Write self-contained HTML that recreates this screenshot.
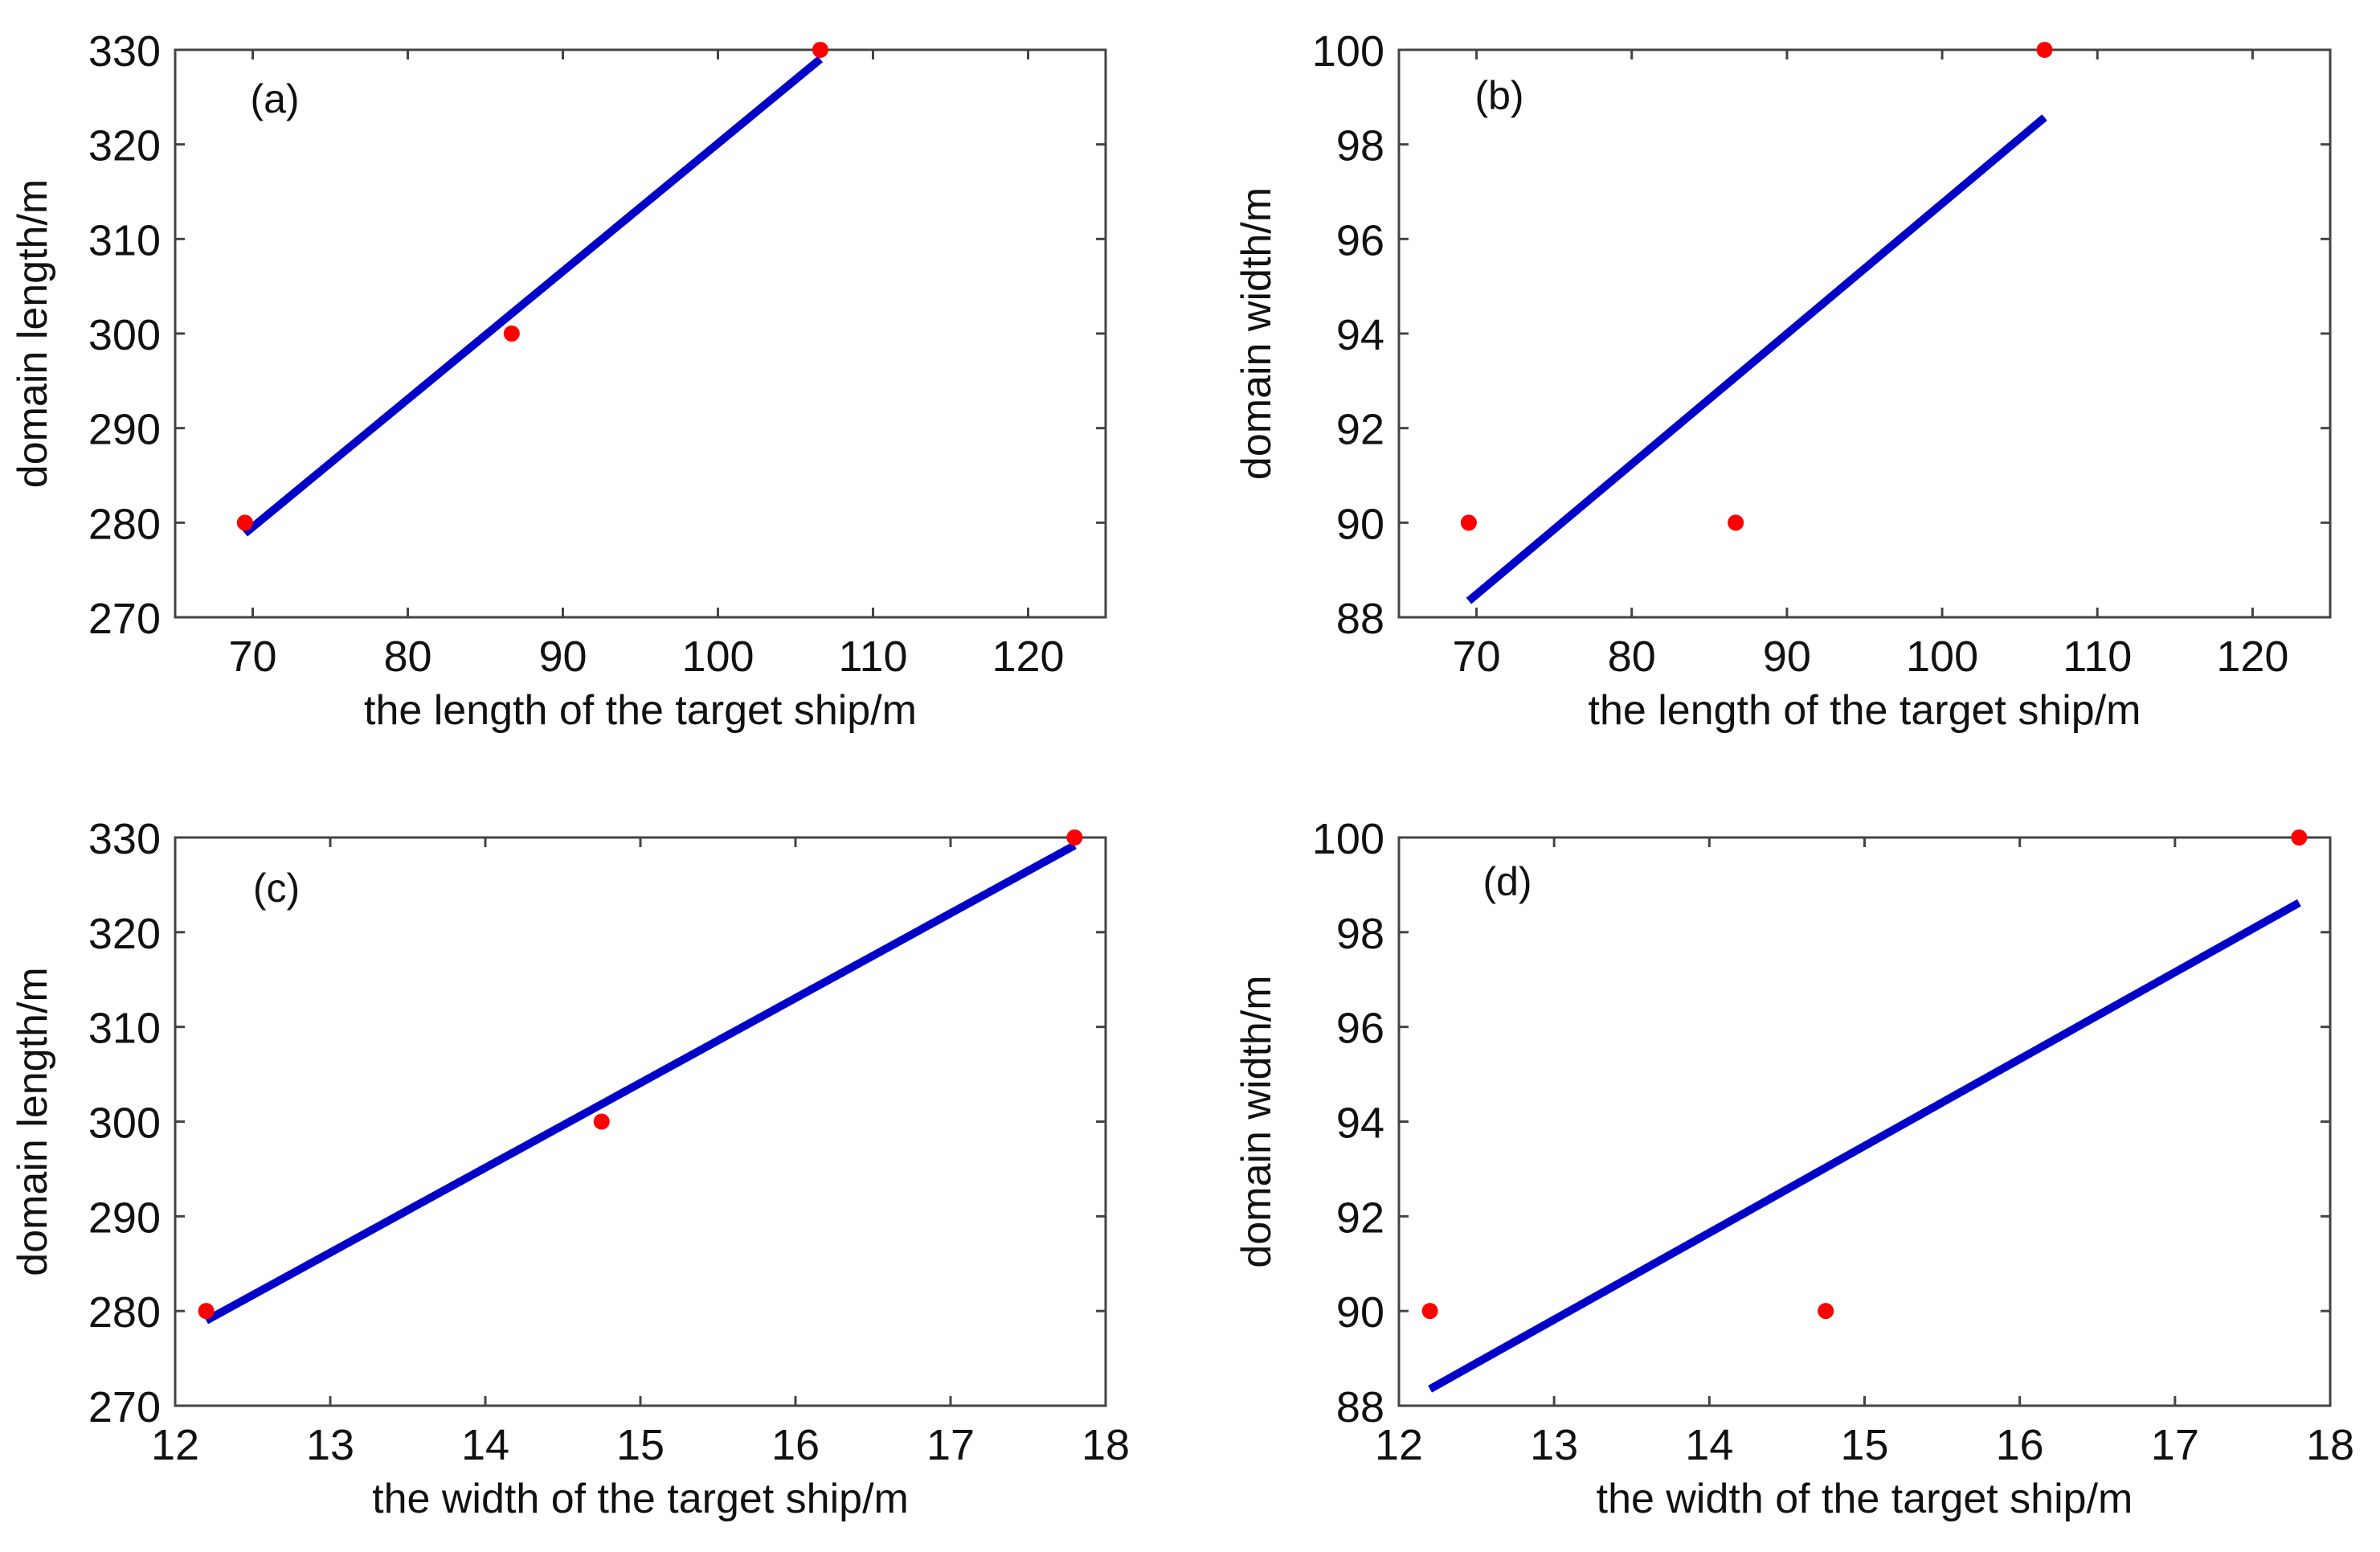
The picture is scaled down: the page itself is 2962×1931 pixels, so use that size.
<!DOCTYPE html>
<html><head><meta charset="utf-8"><style>
html,body{margin:0;padding:0;background:#fff;}
svg{display:block;font-family:"Liberation Sans",Arial,sans-serif;}
</style></head><body>
<svg id="fig" width="2962" height="1931" viewBox="0 0 2962 1931" xmlns="http://www.w3.org/2000/svg"></svg>
<script>
const shipLength = [69.5, 86.7, 106.6];
const shipWidth = [12.2, 14.75, 17.8];
const domainLength = [280, 300, 330];
const domainWidth = [90, 90, 100];
const ticksLen = [70, 80, 90, 100, 110, 120];
const ticksWid = [12, 13, 14, 15, 16, 17, 18];
const ticksDL = [270, 280, 290, 300, 310, 320, 330];
const ticksDW = [88, 90, 92, 94, 96, 98, 100];

const NS = "http://www.w3.org/2000/svg";
const svg = document.getElementById('fig');
function mk(tag, attrs, parent) {
  const e = document.createElementNS(NS, tag);
  for (const k in attrs) e.setAttribute(k, attrs[k]);
  (parent || svg).appendChild(e);
  return e;
}
function fit(xs, ys) {
  const n = xs.length;
  const mx = xs.reduce((a, b) => a + b, 0) / n, my = ys.reduce((a, b) => a + b, 0) / n;
  let sxy = 0, sxx = 0;
  for (let i = 0; i < n; i++) { sxy += (xs[i] - mx) * (ys[i] - my); sxx += (xs[i] - mx) ** 2; }
  const b = sxy / sxx; return v => my + b * (v - mx);
}
const panels = [
  {id:'a', L:218, T:62, R:1376, B:768, xd:[65,125], yd:[270,330], xs:shipLength, ys:domainLength, xt:ticksLen, yt:ticksDL, xl:'the length of the target ship/m', yl:'domain length/m', lx:342, ly:140},
  {id:'b', L:1741, T:62, R:2900, B:768, xd:[65,125], yd:[88,100], xs:shipLength, ys:domainWidth, xt:ticksLen, yt:ticksDW, xl:'the length of the target ship/m', yl:'domain width/m', lx:1866, ly:136},
  {id:'c', L:218, T:1042, R:1376, B:1749, xd:[12,18], yd:[270,330], xs:shipWidth, ys:domainLength, xt:ticksWid, yt:ticksDL, xl:'the width of the target ship/m', yl:'domain length/m', lx:344, ly:1122},
  {id:'d', L:1741, T:1042, R:2900, B:1749, xd:[12,18], yd:[88,100], xs:shipWidth, ys:domainWidth, xt:ticksWid, yt:ticksDW, xl:'the width of the target ship/m', yl:'domain width/m', lx:1876, ly:1114}
];
panels.forEach(p => {
  const g = mk('g', {});
  
  
  const sx = v => p.L + (v - p.xd[0]) / (p.xd[1] - p.xd[0]) * (p.R - p.L);
  const sy = v => p.B - (v - p.yd[0]) / (p.yd[1] - p.yd[0]) * (p.B - p.T);
  const box = mk('rect', {x:p.L, y:p.T, width:p.R-p.L, height:p.B-p.T, fill:'#fff', stroke:'#444', 'stroke-width':3}, g);
  
  
  p.xt.forEach(t => {
    const x = sx(t);
    mk('line', {x1:x, y1:p.B, x2:x, y2:p.B-12, stroke:'#444', 'stroke-width':3}, g);
    mk('line', {x1:x, y1:p.T, x2:x, y2:p.T+12, stroke:'#444', 'stroke-width':3}, g);
    const tl = mk('text', {x:x, y:p.B+67, 'font-size':54, 'text-anchor':'middle', fill:'#111'}, g);
    tl.textContent = t;
    
    
  });
  p.yt.forEach(t => {
    const y = sy(t);
    mk('line', {x1:p.L, y1:y, x2:p.L+12, y2:y, stroke:'#444', 'stroke-width':3}, g);
    mk('line', {x1:p.R, y1:y, x2:p.R-12, y2:y, stroke:'#444', 'stroke-width':3}, g);
    const tl = mk('text', {x:p.L-18, y:y+20, 'font-size':54, 'text-anchor':'end', fill:'#111'}, g);
    tl.textContent = t;
    
    
  });
  const f = fit(p.xs, p.ys);
  const x0 = p.xs[0], x1 = p.xs[p.xs.length - 1];
  const ln = mk('line', {x1:sx(x0), y1:sy(f(x0)), x2:sx(x1), y2:sy(f(x1)), stroke:'#0000c8', 'stroke-width':10}, g);
  
  
  p.xs.forEach((v, i) => {
    const c = mk('circle', {cx:sx(v), cy:sy(p.ys[i]), r:10, fill:'#ff0000'}, g);
    
    
  });
  const xl = mk('text', {x:(p.L+p.R)/2, y:p.B+133, 'font-size':52, 'text-anchor':'middle', fill:'#111'}, g);
  xl.textContent = p.xl;
  
  
  const cy = (p.T + p.B) / 2, cxp = p.L - 160;
  const yl = mk('text', {x:cxp, y:cy, 'font-size':52, 'text-anchor':'middle', fill:'#111', transform:'rotate(-90 '+cxp+' '+cy+')'}, g);
  yl.textContent = p.yl;
  
  
  const pl = mk('text', {x:p.lx, y:p.ly, 'font-size':50, 'text-anchor':'middle', fill:'#111'}, g);
  pl.textContent = '(' + p.id + ')';
  
  
});
</script>
</body></html>
